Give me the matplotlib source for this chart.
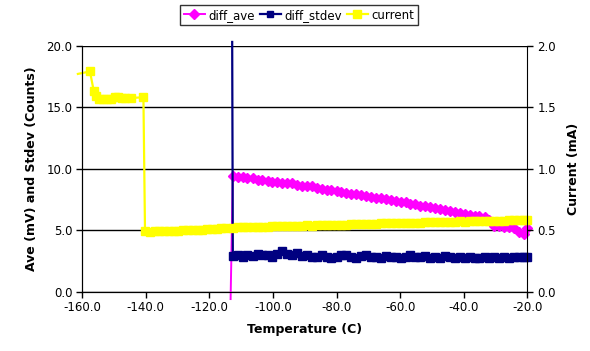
import matplotlib
matplotlib.use("Agg")
import matplotlib.pyplot as plt

# temperatures (C) shared by the three series after the transition
temp = [-112.6, -111.0, -109.5, -108.0, -106.4, -104.8, -103.3, -101.7, -100.2, -98.6,
        -97.1, -95.5, -94.0, -92.4, -90.9, -89.3, -87.8, -86.2, -84.7, -83.1,
        -81.6, -80.0, -78.5, -76.9, -75.4, -73.8, -72.3, -70.7, -69.2, -67.6,
        -66.1, -64.5, -63.0, -61.4, -59.9, -58.3, -56.8, -55.2, -53.7, -52.1,
        -50.6, -49.0, -47.5, -45.9, -44.4, -42.8, -41.3, -39.7, -38.2, -36.6,
        -35.1, -33.5, -32.0, -30.4, -28.9, -27.3, -25.8, -24.2, -22.7, -21.1,
        -20.0]

diff_ave = [9.40, 9.30, 9.32, 9.20, 9.22, 9.10, 9.05, 9.00, 8.92, 8.90,
            8.85, 8.80, 8.85, 8.65, 8.60, 8.55, 8.60, 8.45, 8.35, 8.30,
            8.25, 8.15, 8.10, 8.05, 7.95, 7.90, 7.85, 7.78, 7.70, 7.65,
            7.58, 7.50, 7.45, 7.38, 7.30, 7.25, 7.15, 7.10, 7.00, 6.95,
            6.88, 6.80, 6.72, 6.65, 6.55, 6.50, 6.40, 6.30, 6.22, 6.15,
            6.12, 6.05, 5.80, 5.35, 5.30, 5.28, 5.22, 5.20, 4.85, 4.65,
            5.15]

diff_stdev = [2.90, 2.95, 2.85, 3.00, 2.90, 3.10, 2.95, 3.00, 2.85, 3.05,
              3.30, 3.10, 2.95, 3.15, 2.90, 2.95, 2.80, 2.85, 2.95, 2.80,
              2.75, 2.85, 3.00, 2.95, 2.85, 2.70, 2.90, 2.95, 2.80, 2.85,
              2.75, 2.90, 2.85, 2.80, 2.75, 2.85, 2.95, 2.85, 2.80, 2.90,
              2.75, 2.85, 2.70, 2.90, 2.80, 2.75, 2.85, 2.70, 2.80, 2.75,
              2.70, 2.80, 2.75, 2.85, 2.70, 2.80, 2.75, 2.85, 2.80, 2.85,
              2.80]

# first reading of each diff series is off the scale
ave_start = (-113.3, -0.6)
stdev_start = (-112.8, 20.3)

# current before and during the drop, then after
cur_temp_early = [-161.3, -157.5, -156.3, -155.6, -154.8, -153.5, -152.2, -151.0, -149.7,
                  -148.8, -147.5, -146.5, -144.5, -140.7,
                  -140.2, -138.7, -137.2, -135.7, -134.2, -132.7, -131.2, -129.7, -128.2,
                  -126.7, -125.2, -123.7, -122.2, -120.7, -119.2, -117.7, -116.2, -114.7]
cur_early = [1.77, 1.79, 1.63, 1.59, 1.57, 1.565, 1.565, 1.57, 1.58,
             1.58, 1.575, 1.575, 1.575, 1.58,
             0.490, 0.488, 0.490, 0.492, 0.490, 0.495, 0.493, 0.497, 0.500,
             0.498, 0.502, 0.505, 0.503, 0.507, 0.510, 0.512, 0.515, 0.517]
current = [0.520, 0.522, 0.523, 0.525, 0.524, 0.527, 0.528, 0.527, 0.530, 0.532,
           0.531, 0.533, 0.535, 0.534, 0.537, 0.538, 0.537, 0.540, 0.542, 0.541,
           0.543, 0.545, 0.546, 0.545, 0.548, 0.549, 0.550, 0.552, 0.551, 0.553,
           0.555, 0.556, 0.555, 0.557, 0.558, 0.560, 0.561, 0.560, 0.562, 0.563,
           0.565, 0.566, 0.565, 0.567, 0.568, 0.570, 0.571, 0.570, 0.572, 0.573,
           0.574, 0.575, 0.576, 0.575, 0.577, 0.578, 0.579, 0.580, 0.581, 0.582,
           0.583]

plt.rcParams['font.family'] = ['DejaVu Sans']
plt.rcParams['font.size'] = 8.5

fig = plt.figure(figsize=(5.9, 3.51), dpi=100)
ax = fig.add_axes([0.139, 0.169, 0.755, 0.701])
ax2 = ax.twinx()

ave_x = [ave_start[0]] + temp
ave_y = [ave_start[1]] + diff_ave
sd_x = [stdev_start[0]] + temp
sd_y = [stdev_start[1]] + diff_stdev
cur_x = cur_temp_early + temp
cur_y = cur_early + current

l1, = ax.plot(ave_x, ave_y, color='#FF00FF', lw=1.4, marker='D', ms=5.5,
              markevery=list(range(1, len(ave_x))), clip_on=False, zorder=3)
l2, = ax.plot(sd_x, sd_y, color='#000080', lw=1.6, marker='s', ms=5.5,
              markevery=list(range(1, len(sd_x))), clip_on=False, zorder=4)
l3, = ax2.plot(cur_x, cur_y, color='#FFFF00', lw=1.6, marker='s', ms=6,
               markevery=list(range(1, len(cur_x))), clip_on=False)

ax.set_xlim(-160, -20)
ax.set_ylim(0, 20)
ax2.set_ylim(0, 2)
ax.set_xticks([-160, -140, -120, -100, -80, -60, -40, -20])
ax.set_xticklabels(['%.1f' % v for v in ax.get_xticks()])
ax.set_yticks([0, 5, 10, 15, 20])
ax.set_yticklabels(['%.1f' % v for v in ax.get_yticks()])
ax2.set_yticks([0, 0.5, 1.0, 1.5, 2.0])
ax2.set_yticklabels(['%.1f' % v for v in ax2.get_yticks()])

ax.grid(axis='y', color='black', lw=1)
ax.set_axisbelow(True)
for a in (ax, ax2):
    a.spines['top'].set_visible(False)
    a.tick_params(direction='out', length=4, width=1, colors='black', pad=3)
ax.spines['right'].set_visible(False)

ax.set_xlabel('Temperature (C)', fontweight='bold', fontsize=9, labelpad=6)
ax.set_ylabel('Ave (mV) and Stdev (Counts)', fontweight='bold', fontsize=9, labelpad=6)
ax2.set_ylabel('Current (mA)', fontweight='bold', fontsize=9, labelpad=8)

leg = fig.legend([l1, l2, l3], ['diff_ave', 'diff_stdev', 'current'], loc='center',
                 bbox_to_anchor=(0.507, 0.957), ncol=3, frameon=True, fancybox=False,
                 fontsize=8.5, handlelength=1.8, columnspacing=0.4, handletextpad=0.3,
                 borderpad=0.3, borderaxespad=0, markerscale=0.9)
leg.get_frame().set_edgecolor('black')
leg.get_frame().set_linewidth(1)

fig.savefig('out.png', dpi=100)
